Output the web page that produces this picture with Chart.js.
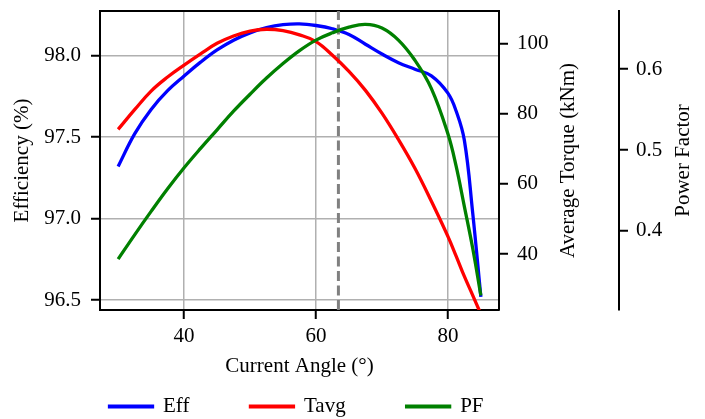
<!DOCTYPE html>
<html>
<head>
<meta charset="utf-8">
<script src="https://cdn.jsdelivr.net/npm/chart.js@4.4.0/dist/chart.umd.min.js"></script>
<style>
    html, body { margin: 0; padding: 0; background: #ffffff; }
    #wrap { width: 705px; height: 419px; }
</style>
</head>
<body>
<div id="wrap"><canvas id="grafico" width="705" height="419"></canvas></div>
<script>

// =============================
// DATA
// =============================

const angles = [30, 32.5, 35, 37.5, 40, 42.5, 45, 47.5, 50, 52.5, 55, 57.5, 60,
    62.5, 65, 67.5, 70, 72.5, 75, 77.5, 80, 81.25, 82.5, 83.75, 85];

const efficiency = [97.32, 97.52, 97.67, 97.785, 97.875, 97.96, 98.035, 98.095, 98.14,
    98.172, 98.19, 98.195, 98.185, 98.165, 98.13, 98.07, 98.01, 97.957, 97.917,
    97.876, 97.77, 97.66, 97.48, 97.04, 96.52];

const torqueAvg = [75.5, 81.1, 86.4, 90.4, 93.8, 97.0, 100.0, 102.1, 103.5, 104.0,
    103.6, 102.4, 100.5, 96.6, 92.0, 86.6, 80.1, 72.6, 64.4, 55.0, 45.0, 39.4,
    33.6, 28.3, 22.9];

const powerFactor = [0.365, 0.395, 0.424, 0.452, 0.478, 0.502, 0.525, 0.548, 0.569,
    0.589, 0.607, 0.623, 0.636, 0.645, 0.652, 0.6555, 0.651, 0.636, 0.611, 0.576,
    0.520, 0.480, 0.430, 0.379, 0.320];

const optimumAngle = 63.4;

const angleTicks = [40, 60, 80];
const efficiencyTicks = [96.5, 97.0, 97.5, 98.0];
const torqueTicks = [40, 60, 80, 100];
const powerFactorTicks = [0.4, 0.5, 0.6];

const angleRange = [27.25, 87.75];
const efficiencyRange = [96.439, 98.274];
const torqueRange = [24.05, 109.2];
const powerFactorRange = [0.302, 0.672];

// =============================
// HELPERS
// =============================

const GRID = "#b0b0b0";
const FONT = "Liberation Serif";
const TEXT_FONT = { family: FONT, size: 21 };

Chart.defaults.font.family = FONT;
Chart.defaults.font.size = 21;
Chart.defaults.color = "#000000";

function points(values) {
    return angles.map((a, i) => ({ x: a, y: values[i] }));
}

function fixedSize(size) {
    return function (scale) {
        if (scale.isHorizontal()) {
            scale.height = size;
        } else {
            scale.width = size;
        }
        scale.paddingTop = 0;
        scale.paddingBottom = 0;
        scale.paddingLeft = 0;
        scale.paddingRight = 0;
    };
}

function fixedTicks(values) {
    return function (scale) {
        scale.ticks = values.map(v => ({ value: v }));
    };
}

function tickMarks(onArea) {
    return {
        display: true,
        drawOnChartArea: onArea,
        color: GRID,
        lineWidth: 1.5,
        tickColor: "#000000",
        tickWidth: 2,
        tickLength: 9
    };
}

function series(label, values, axis, color, order) {
    return {
        label: label,
        data: points(values),
        yAxisID: axis,
        borderColor: color,
        backgroundColor: color,
        borderWidth: 3.3,
        pointRadius: 0,
        tension: 0.4,
        order: order
    };
}

// legend centred under the plot, like the original figure
const legendPlacement = {
    id: "legendPlacement",
    afterLayout(chart) {
        const legend = chart.legend;
        const area = chart.chartArea;
        legend.right = chart.width;
        legend.left = area.left + area.right - legend.right - 6;
        legend.top = 335;
        legend.bottom = chart.height;
        legend.width = legend.right - legend.left;
        legend.height = legend.bottom - legend.top;
    }
};

// right hand axis titles read bottom to top
const rightTitles = {
    id: "rightTitles",
    afterDraw(chart, args, opts) {
        const ctx = chart.ctx;
        opts.items.forEach(item => {
            const scale = chart.scales[item.scale];
            ctx.save();
            ctx.translate(item.x, (scale.top + scale.bottom) / 2);
            ctx.rotate(-Math.PI / 2);
            ctx.font = "21px '" + FONT + "'";
            ctx.fillStyle = "#000000";
            ctx.textAlign = "center";
            ctx.textBaseline = "middle";
            ctx.fillText(item.text, 0, 0);
            ctx.restore();
        });
    }
};

// =============================
// CHART
// =============================

function renderChart() {

    const ctx = document.getElementById("grafico");

    new Chart(ctx, {
        type: "line",
        data: {
            datasets: [
                series("Eff", efficiency, "y", "#0000ff", 3),
                series("Tavg", torqueAvg, "yT", "#ff0000", 1),
                series("PF", powerFactor, "yP", "#008000", 0),
                {
                    label: "optimum",
                    data: [
                        { x: optimumAngle, y: efficiencyRange[0] },
                        { x: optimumAngle, y: efficiencyRange[1] }
                    ],
                    yAxisID: "y",
                    borderColor: "#808080",
                    backgroundColor: "#808080",
                    borderWidth: 3,
                    borderDash: [10, 4.5],
                    pointRadius: 0,
                    order: 2
                }
            ]
        },
        options: {
            responsive: false,
            animation: false,
            devicePixelRatio: 1,
            layout: { padding: 0, autoPadding: false },
            plugins: {
                tooltip: { enabled: false },
                legend: {
                    position: "bottom",
                    maxHeight: 34,
                    labels: {
                        boxWidth: 43,
                        boxHeight: 0.5,
                        padding: 61,
                        color: "#000000",
                        font: TEXT_FONT,
                        filter: item => item.datasetIndex < 3,
                        sort: (a, b) => a.datasetIndex - b.datasetIndex
                    }
                },
                rightTitles: {
                    items: [
                        { scale: "yT", text: "Average Torque (kNm)", x: 568.5 },
                        { scale: "yP", text: "Power Factor", x: 683.5 }
                    ]
                }
            },
            scales: {
                x: {
                    type: "linear",
                    position: "bottom",
                    min: angleRange[0],
                    max: angleRange[1],
                    afterBuildTicks: fixedTicks(angleTicks),
                    afterFit: fixedSize(75),
                    grid: tickMarks(true),
                    border: { color: "#000000", width: 2 },
                    ticks: { padding: 5, maxRotation: 0, font: TEXT_FONT, callback: v => String(v) },
                    title: {
                        display: true,
                        text: "Current Angle (°)",
                        font: TEXT_FONT,
                        padding: { top: 0, bottom: 6 }
                    }
                },
                xTop: {
                    type: "linear",
                    position: "top",
                    min: angleRange[0],
                    max: angleRange[1],
                    afterFit: fixedSize(11),
                    grid: { display: false },
                    border: { color: "#000000", width: 2 },
                    ticks: { display: false }
                },
                y: {
                    type: "linear",
                    position: "left",
                    min: efficiencyRange[0],
                    max: efficiencyRange[1],
                    afterBuildTicks: fixedTicks(efficiencyTicks),
                    afterFit: fixedSize(100),
                    grid: tickMarks(true),
                    border: { color: "#000000", width: 2 },
                    ticks: { padding: 10, font: TEXT_FONT, callback: v => v.toFixed(1) },
                    title: {
                        display: true,
                        text: "Efficiency (%)",
                        font: TEXT_FONT,
                        padding: { top: 10, bottom: 0 }
                    }
                },
                yT: {
                    type: "linear",
                    position: "right",
                    weight: 0,
                    min: torqueRange[0],
                    max: torqueRange[1],
                    afterBuildTicks: fixedTicks(torqueTicks),
                    afterFit: fixedSize(120),
                    grid: tickMarks(false),
                    border: { color: "#000000", width: 2 },
                    ticks: { padding: 9, font: TEXT_FONT, callback: v => String(v) }
                },
                yP: {
                    type: "linear",
                    position: "right",
                    weight: 1,
                    min: powerFactorRange[0],
                    max: powerFactorRange[1],
                    afterBuildTicks: fixedTicks(powerFactorTicks),
                    afterFit: fixedSize(86),
                    grid: tickMarks(false),
                    border: { color: "#000000", width: 2 },
                    ticks: { padding: 8, font: TEXT_FONT, callback: v => v.toFixed(1) }
                }
            }
        },
        plugins: [legendPlacement, rightTitles]
    });

}

renderChart();

</script>
</body>
</html>
